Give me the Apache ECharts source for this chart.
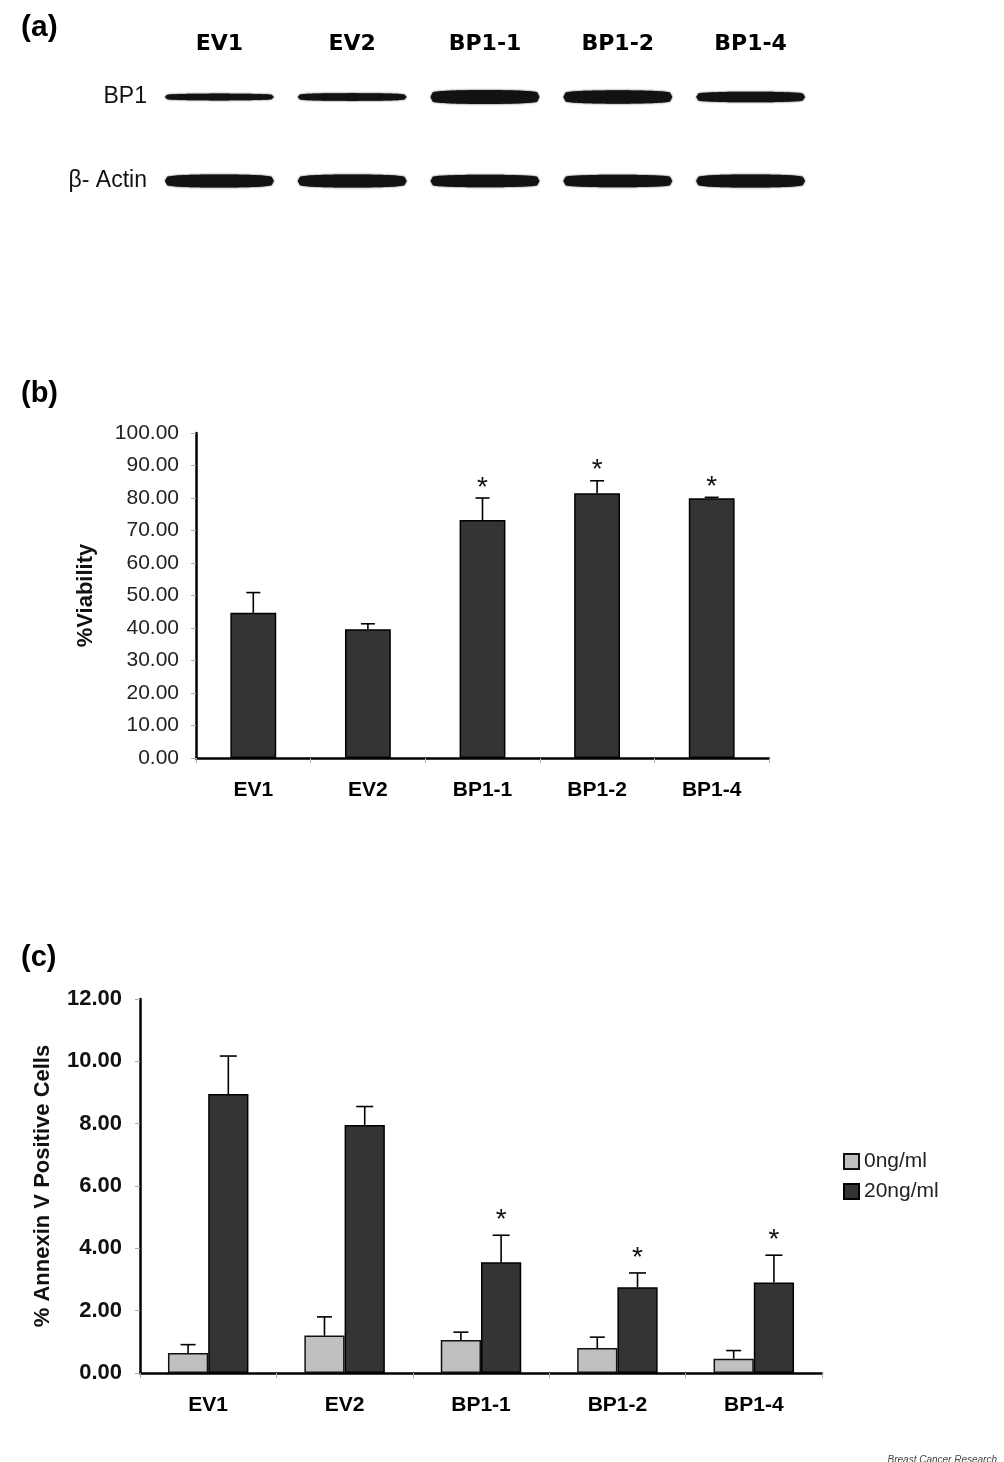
<!DOCTYPE html>
<html>
<head>
<meta charset="utf-8">
<script src="https://cdn.jsdelivr.net/npm/echarts@6/dist/echarts.min.js"></script>
<style>
html,body{margin:0;padding:0;background:#fff;}
#chart{width:1004px;height:1462px;}
</style>
</head>
<body>
<div id="chart"></div>
<script>
// ---- Panel (a): western blot ----
const blotLanes = ['EV1', 'EV2', 'BP1-1', 'BP1-2', 'BP1-4'];
const blotRows = ['BP1', 'β- Actin'];
const bp1BandIntensity = [0.40, 0.48, 1.00, 0.95, 0.72];
const actinBandIntensity = [0.92, 0.92, 0.88, 0.88, 0.92];

// ---- Panel (b): viability ----
const viabilityCats = ['EV1', 'EV2', 'BP1-1', 'BP1-2', 'BP1-4'];
const viabilityMean = [44.7, 39.6, 73.2, 81.5, 79.9];
const viabilityErr = [6.2, 1.7, 6.8, 3.8, 0.3];
const viabilitySig = ['', '', '*', '*', '*'];
const viabilityTicks = [0, 10, 20, 30, 40, 50, 60, 70, 80, 90, 100];

// ---- Panel (c): annexin V ----
const annexinCats = ['EV1', 'EV2', 'BP1-1', 'BP1-2', 'BP1-4'];
const seriesNames = ['0ng/ml', '20ng/ml'];
const annexin0 = [0.64, 1.20, 1.06, 0.80, 0.46];
const annexin0Err = [0.27, 0.60, 0.25, 0.35, 0.26];
const annexin20 = [8.95, 7.96, 3.55, 2.75, 2.90];
const annexin20Err = [1.22, 0.59, 0.87, 0.46, 0.88];
const annexinSig = ['', '', '*', '*', '*'];
const annexinTicks = [0, 2, 4, 6, 8, 10, 12];

const FONT = 'Liberation Sans, Arial, sans-serif';
const DARK = '#343434';
const LIGHT = '#c0c0c0';

function blotData() {
  const d = [];
  bp1BandIntensity.forEach((v, i) => d.push([i, 0, v]));
  actinBandIntensity.forEach((v, i) => d.push([i, 1, v]));
  return d;
}

function renderBand(params, api) {
  const c = api.coord([api.value(0), api.value(1)]);
  const bw = api.size([1, 0])[0];
  const len = bw * 0.82;
  const thick = 2 + api.value(2) * 12;
  const pts = [];
  const N = 48;
  for (let k = 0; k <= N; k++) {
    const t = k / N;
    const h = thick / 2 * Math.pow(Math.sin(Math.PI * t), 0.15);
    pts.push([c[0] - len / 2 + t * len, c[1] - h]);
  }
  for (let k = N; k >= 0; k--) {
    const t = k / N;
    const h = thick / 2 * Math.pow(Math.sin(Math.PI * t), 0.15);
    pts.push([c[0] - len / 2 + t * len, c[1] + h]);
  }
  return {
    type: 'polygon',
    shape: { points: pts, smooth: 0 },
    style: { fill: '#121212', shadowBlur: 2, shadowColor: 'rgba(0,0,0,0.8)' }
  };
}

function errRenderer(offsetFrac, capW, sigArr, starGap) {
  return function (params, api) {
    const x = api.value(0), v = api.value(1), e = api.value(2);
    const bw = api.size([1, 0])[0];
    const base = api.coord([x, v]);
    const top = api.coord([x, v + e]);
    const cx = base[0] + offsetFrac * bw;
    const children = [
      { type: 'line', shape: { x1: cx, y1: base[1], x2: cx, y2: top[1] }, style: { stroke: '#000', lineWidth: 1.6 } },
      { type: 'line', shape: { x1: cx - capW / 2, y1: top[1], x2: cx + capW / 2, y2: top[1] }, style: { stroke: '#000', lineWidth: 1.6 } }
    ];
    const s = sigArr[params.dataIndex];
    if (s) {
      children.push({
        type: 'text',
        style: { x: cx, y: top[1] - starGap, text: s, fill: '#111', font: '28px ' + FONT, align: 'center', verticalAlign: 'middle' }
      });
    }
    return { type: 'group', children: children };
  };
}

const chart = echarts.init(document.getElementById('chart'), null, { renderer: 'canvas' });

const option = {
  backgroundColor: '#fff',
  animation: false,
  title: [
    { text: '(a)', left: 16, top: 8, textStyle: { fontSize: 30, fontWeight: 'bold', color: '#000', fontFamily: FONT } },
    { text: '(b)', left: 16, top: 374, textStyle: { fontSize: 29, fontWeight: 'bold', color: '#000', fontFamily: FONT } },
    { text: '(c)', left: 16, top: 938, textStyle: { fontSize: 29, fontWeight: 'bold', color: '#000', fontFamily: FONT } },
    { text: 'Breast Cancer Research', right: 2, top: 1450, textStyle: { fontSize: 10, fontStyle: 'italic', fontWeight: 'normal', color: '#444', fontFamily: FONT } }
  ],
  legend: {
    data: seriesNames,
    orient: 'vertical',
    left: 838,
    top: 1146,
    icon: 'rect',
    itemWidth: 15,
    itemHeight: 15,
    itemGap: 9,
    textStyle: { fontSize: 21, color: '#222', fontFamily: FONT }
  },
  grid: [
    { left: 153, top: 55, width: 664, height: 168 },
    { left: 196, top: 433, width: 573, height: 325 },
    { left: 140, top: 999, width: 682, height: 374 }
  ],
  xAxis: [
    {
      gridIndex: 0, type: 'category', data: blotLanes, position: 'top',
      axisLine: { show: false }, axisTick: { show: false }, splitLine: { show: false },
      axisLabel: { margin: 0, fontSize: 22, fontWeight: 'bold', color: '#000', fontFamily: 'DejaVu Sans' }
    },
    {
      gridIndex: 1, type: 'category', data: viabilityCats,
      axisLine: { lineStyle: { color: '#000', width: 2.5 } },
      axisTick: { show: true, length: 5, lineStyle: { color: '#aaa', width: 1 } },
      axisLabel: { margin: 22, fontSize: 21, fontWeight: 'bold', color: '#000', fontFamily: FONT }
    },
    {
      gridIndex: 2, type: 'category', data: annexinCats,
      axisLine: { lineStyle: { color: '#000', width: 2.5 } },
      axisTick: { show: true, length: 5, lineStyle: { color: '#aaa', width: 1 } },
      axisLabel: { margin: 22, fontSize: 21, fontWeight: 'bold', color: '#000', fontFamily: FONT }
    }
  ],
  yAxis: [
    {
      gridIndex: 0, type: 'category', data: blotRows, inverse: true,
      axisLine: { show: false }, axisTick: { show: false }, splitLine: { show: false },
      axisLabel: { margin: 6, fontSize: 23, color: '#111', fontFamily: FONT }
    },
    {
      gridIndex: 1, type: 'value', min: viabilityTicks[0], max: viabilityTicks[viabilityTicks.length - 1], interval: 10,
      name: '%Viability', nameLocation: 'middle', nameGap: 99,
      nameTextStyle: { fontSize: 22, fontWeight: 'bold', color: '#111', fontFamily: FONT },
      axisLine: { show: true, lineStyle: { color: '#000', width: 2.5 } },
      axisTick: { show: true, length: 5, lineStyle: { color: '#aaa', width: 1 } },
      splitLine: { show: false },
      axisLabel: { margin: 17, fontSize: 21, color: '#222', fontFamily: FONT, formatter: v => v.toFixed(2) }
    },
    {
      gridIndex: 2, type: 'value', min: annexinTicks[0], max: annexinTicks[annexinTicks.length - 1], interval: 2,
      name: '% Annexin V Positive Cells', nameLocation: 'middle', nameGap: 86,
      nameTextStyle: { fontSize: 22, fontWeight: 'bold', color: '#111', fontFamily: FONT },
      axisLine: { show: true, lineStyle: { color: '#000', width: 2.5 } },
      axisTick: { show: true, length: 5, lineStyle: { color: '#aaa', width: 1 } },
      splitLine: { show: false },
      axisLabel: { margin: 18, fontSize: 22, fontWeight: 'bold', color: '#111', fontFamily: FONT, formatter: v => v.toFixed(2) }
    }
  ],
  series: [
    {
      type: 'custom', xAxisIndex: 0, yAxisIndex: 0,
      data: blotData(), renderItem: renderBand, silent: true
    },
    {
      type: 'bar', xAxisIndex: 1, yAxisIndex: 1, data: viabilityMean, barWidth: '40%',
      itemStyle: { color: DARK, borderColor: '#000', borderWidth: 1.5 }, silent: true
    },
    {
      type: 'custom', xAxisIndex: 1, yAxisIndex: 1, z: 5,
      data: viabilityMean.map((v, i) => [i, v, viabilityErr[i]]),
      renderItem: errRenderer(0, 14, viabilitySig, 10), silent: true
    },
    {
      name: seriesNames[0], type: 'bar', xAxisIndex: 2, yAxisIndex: 2, data: annexin0,
      barWidth: '29.5%', barGap: '0%',
      itemStyle: { color: LIGHT, borderColor: '#111', borderWidth: 1.5 }, silent: true
    },
    {
      name: seriesNames[1], type: 'bar', xAxisIndex: 2, yAxisIndex: 2, data: annexin20,
      barWidth: '29.5%', barGap: '0%',
      itemStyle: { color: DARK, borderColor: '#000', borderWidth: 1.5 }, silent: true
    },
    {
      type: 'custom', xAxisIndex: 2, yAxisIndex: 2, z: 5,
      data: annexin0.map((v, i) => [i, v, annexin0Err[i]]),
      renderItem: errRenderer(-0.1475, 15, ['', '', '', '', ''], 15), silent: true
    },
    {
      type: 'custom', xAxisIndex: 2, yAxisIndex: 2, z: 5,
      data: annexin20.map((v, i) => [i, v, annexin20Err[i]]),
      renderItem: errRenderer(0.1475, 17, annexinSig, 15), silent: true
    }
  ]
};
chart.setOption(option);
</script>
</body>
</html>
